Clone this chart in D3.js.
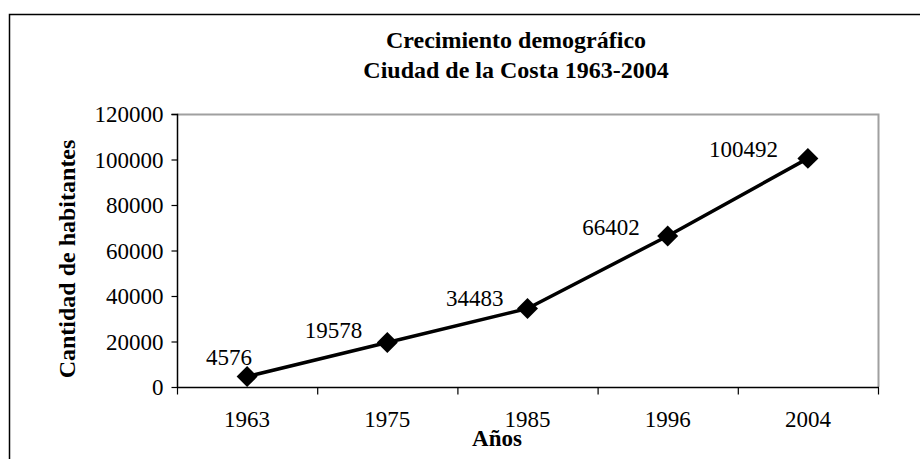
<!DOCTYPE html>
<html>
<head>
<meta charset="utf-8">
<script src="https://cdn.jsdelivr.net/npm/d3@7"></script>
<style>
  html, body { margin: 0; padding: 0; background: #fff; }
  svg { display: block; }
</style>
</head>
<body>
<svg id="chart" width="920" height="459"></svg>
<script>
// ---- data ----
const years = ["1963", "1975", "1985", "1996", "2004"];
const population = [4576, 19578, 34483, 66402, 100492];
const yTicks = [0, 20000, 40000, 60000, 80000, 100000, 120000];
const titleLines = ["Crecimiento demográfico", "Ciudad de la Costa 1963-2004"];
const yTitle = "Cantidad de habitantes";
const xTitle = "Años";

// ---- layout (label placement relative to each point) ----
const labelDx = [5, -25, -24, -28, -30];
const labelDy = [-12, -4, -3, -1, -1];

const SERIF = '"Liberation Serif", "Times New Roman", "DejaVu Serif", serif';
const svg = d3.select("#chart");
const plot = { left: 177, right: 878, top: 114, bottom: 387 };

// outer chart frame (left + top edges visible)
svg.append("path")
  .attr("d", "M9.5,459 L9.5,14.5 L920,14.5")
  .attr("fill", "none").attr("stroke", "#000").attr("stroke-width", 1.5);

const x = d3.scaleBand().domain(years).range([plot.left, plot.right]).paddingInner(0).paddingOuter(0);
const y = d3.scaleLinear().domain([0, 120000]).range([plot.bottom, plot.top]);

// plot area border: top and right in gray
svg.append("path")
  .attr("d", `M${plot.left},${plot.top + 0.5} L${plot.right + 0.5},${plot.top + 0.5} L${plot.right + 0.5},${plot.bottom}`)
  .attr("fill", "none").attr("stroke", "#a0a0a0").attr("stroke-width", 2);

// y axis
const yAxis = d3.axisLeft(y).tickValues(yTicks).tickSize(6).tickPadding(8).tickFormat(d3.format("d"));
const gy = svg.append("g").attr("transform", `translate(${plot.left + 0.5},0)`).call(yAxis)
  .attr("font-family", null).attr("font-size", null);
gy.select(".domain").attr("stroke", "#000").attr("stroke-width", 1.5).attr("d", `M-6,${plot.top + 0.5}H0V${plot.bottom}`);
gy.selectAll(".tick line").attr("stroke", "#000").attr("stroke-width", 1.2);
gy.selectAll(".tick text")
  .style("font-family", SERIF).style("font-size", "23px")
  .attr("fill", "#000").attr("dy", "0.34em");

// x axis: ticks at category boundaries
const xAxisG = svg.append("g").attr("transform", `translate(0,${plot.bottom + 0.5})`);
xAxisG.append("line")
  .attr("x1", plot.left).attr("x2", plot.right + 1)
  .attr("stroke", "#000").attr("stroke-width", 1.5);
const boundaries = years.map(d => x(d)).concat([x(years[years.length - 1]) + x.bandwidth()]);
xAxisG.selectAll("line.tk").data(boundaries).enter().append("line")
  .attr("class", "tk")
  .attr("x1", d => d + 0.5).attr("x2", d => d + 0.5)
  .attr("y1", 0).attr("y2", 7)
  .attr("stroke", "#000").attr("stroke-width", 1.2);
xAxisG.selectAll("text.lbl").data(years).enter().append("text")
  .attr("class", "lbl")
  .attr("x", d => x(d) + x.bandwidth() / 2)
  .attr("y", 39)
  .attr("text-anchor", "middle")
  .style("font-family", SERIF).style("font-size", "23px")
  .text(d => d);

// line
const pts = years.map((yr, i) => ({ yr, v: population[i], i }));
const line = d3.line().x(d => x(d.yr) + x.bandwidth() / 2).y(d => y(d.v));
svg.append("path").datum(pts)
  .attr("d", line)
  .attr("fill", "none").attr("stroke", "#000").attr("stroke-width", 3.5)
  .attr("stroke-linejoin", "round");

// markers
const sym = d3.symbol().type(d3.symbolSquare).size(220);
svg.selectAll("path.mk").data(pts).enter().append("path")
  .attr("class", "mk")
  .attr("d", sym)
  .attr("transform", d => `translate(${x(d.yr) + x.bandwidth() / 2},${y(d.v)}) rotate(45)`)
  .attr("fill", "#000");

// data labels
svg.selectAll("text.dl").data(pts).enter().append("text")
  .attr("class", "dl")
  .attr("x", d => x(d.yr) + x.bandwidth() / 2 + labelDx[d.i])
  .attr("y", d => y(d.v) + labelDy[d.i])
  .attr("text-anchor", "end")
  .style("font-family", SERIF).style("font-size", "23px")
  .text(d => d.v);

// titles
svg.selectAll("text.title").data(titleLines).enter().append("text")
  .attr("class", "title")
  .attr("x", 516).attr("y", (d, i) => 48 + i * 30)
  .attr("text-anchor", "middle")
  .style("font-family", SERIF).style("font-size", "24px").style("font-weight", "bold")
  .text(d => d);

svg.append("text")
  .attr("transform", `translate(75,259) rotate(-90)`)
  .attr("text-anchor", "middle")
  .style("font-family", SERIF).style("font-size", "24px").style("font-weight", "bold")
  .text(yTitle);

svg.append("text")
  .attr("x", 497).attr("y", 446)
  .attr("text-anchor", "middle")
  .style("font-family", SERIF).style("font-size", "23px").style("font-weight", "bold")
  .text(xTitle);
</script>
</body>
</html>
